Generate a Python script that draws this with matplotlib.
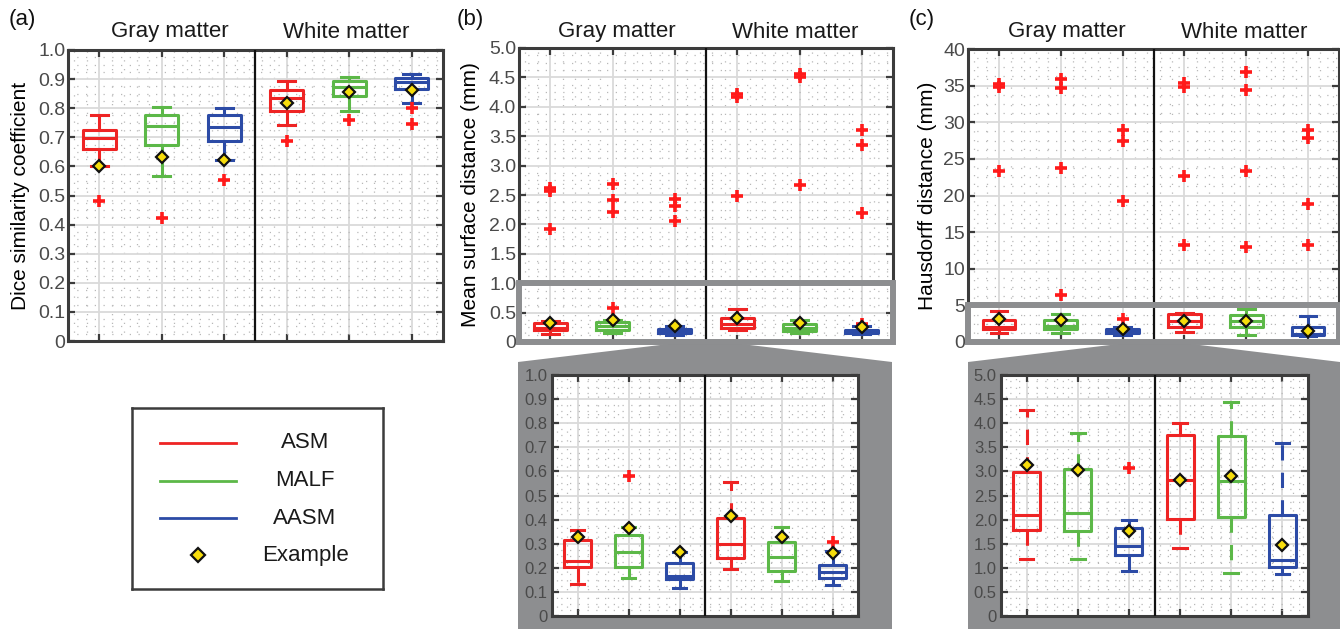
"""
Box plot DSC / MSD / HD per ASM, MALF, AASM su materia grigia e bianca.
"""

import matplotlib
matplotlib.use("Agg")
import matplotlib.pyplot as plt
from matplotlib.patches import Rectangle, Polygon
from matplotlib.lines import Line2D
import matplotlib.transforms as mtransforms
import numpy as np

plt.rcParams["font.family"] = ["Liberation Sans", "DejaVu Sans"]

W, H = 1340, 629

# ─────────────────────────────────────────
# Dati (ordine: ASM-GM, MALF-GM, AASM-GM, ASM-WM, MALF-WM, AASM-WM)
# ─────────────────────────────────────────

methods = ["ASM", "MALF", "AASM"]
regions = ["Gray matter", "White matter"]

# Dice similarity coefficient
dsc_q1 = [0.661, 0.675, 0.687, 0.791, 0.842, 0.865]
dsc_med = [0.698, 0.740, 0.734, 0.836, 0.872, 0.889]
dsc_q3 = [0.725, 0.775, 0.775, 0.861, 0.893, 0.905]
dsc_lo = [0.601, 0.568, 0.622, 0.743, 0.792, 0.817]
dsc_hi = [0.776, 0.805, 0.800, 0.894, 0.906, 0.917]
dsc_out = [[0.480], [0.424], [0.553], [0.687], [0.761], [0.800, 0.744]]
dsc_ex = [0.602, 0.634, 0.622, 0.819, 0.855, 0.862]

# Mean surface distance (mm)
msd_q1 = [0.202, 0.202, 0.152, 0.239, 0.185, 0.158]
msd_med = [0.230, 0.267, 0.166, 0.299, 0.243, 0.181]
msd_q3 = [0.315, 0.336, 0.219, 0.405, 0.306, 0.212]
msd_lo = [0.133, 0.158, 0.118, 0.196, 0.147, 0.129]
msd_hi = [0.357, 0.371, 0.267, 0.555, 0.371, 0.271]
msd_out = [[2.62, 2.56, 1.93], [2.69, 2.41, 2.21, 0.581], [2.44, 2.32, 2.05],
           [4.21, 4.16, 2.49], [4.56, 4.50, 2.67], [3.61, 3.35, 2.19, 0.306]]
msd_ex = [0.329, 0.367, 0.267, 0.415, 0.329, 0.263]

# Hausdorff distance (mm)
hd_q1 = [1.78, 1.76, 1.26, 2.01, 2.06, 1.02]
hd_med = [2.09, 2.14, 1.46, 2.82, 2.80, 1.16]
hd_q3 = [2.99, 3.04, 1.82, 3.76, 3.73, 2.09]
hd_lo = [1.18, 1.18, 0.94, 1.42, 0.90, 0.88]
hd_hi = [4.28, 3.80, 2.00, 4.01, 4.45, 3.58]
hd_out = [[35.2, 34.75, 23.4], [35.9, 34.7, 23.8, 6.48], [28.9, 27.5, 19.25, 3.08],
          [35.35, 34.8, 22.7, 13.3], [36.8, 34.4, 23.35, 13.0], [28.96, 27.8, 18.9, 13.3]]
hd_ex = [3.13, 3.02, 1.77, 2.82, 2.90, 1.47]

# ─────────────────────────────────────────
# Stile
# ─────────────────────────────────────────

COLORS = ["#ee2424", "#5cb848", "#2c4ba6"]
FRAME = "#3c3c3c"
CALLOUT = "#8d8e90"
TICKCOL = "#4a4a4a"
POS = np.arange(1, 7)


def px_box(l, t, r, b):
    """Rettangolo in pixel -> [left, bottom, width, height] in frazione di figura."""
    return [l / W, 1 - b / H, (r - l) / W, (b - t) / H]


def make_stats(q1, med, q3, lo, hi, out):
    stats = []
    for i in range(len(q1)):
        stats.append({"q1": q1[i], "med": med[i], "q3": q3[i],
                      "whislo": lo[i], "whishi": hi[i], "fliers": out[i]})
    return stats


def setup_axes(ax, ylim, major, minor, fs, pad):
    ax.set_xlim(0.5, 6.5)
    ax.set_ylim(*ylim)
    ax.set_xticks(POS)
    ax.set_xticklabels([])
    ax.set_xticks(np.arange(0.6, 6.45, 0.2), minor=True)
    ax.set_yticks(np.arange(ylim[0], ylim[1] + 1e-9, major))
    ax.set_yticks(np.arange(ylim[0], ylim[1] + 1e-9, minor), minor=True)
    ax.tick_params(which="major", direction="in", length=5, width=1.6,
                   color=FRAME, top=True, right=True, labelsize=fs,
                   labelcolor=TICKCOL, pad=pad)
    ax.tick_params(which="minor", length=0)
    ax.grid(True, which="major", color="#dadada", lw=1.3)
    ax.grid(True, which="minor", color="#b8b8b8", lw=0.9, ls=(0, (1, 6)))
    ax.set_axisbelow(True)
    for s in ax.spines.values():
        s.set_color(FRAME)
        s.set_linewidth(2.2)
    ax.axvline(3.5, color="#111111", lw=1.6, zorder=3)


def draw_boxes(ax, stats, example, dashed):
    for i, st in enumerate(stats):
        c = COLORS[i % 3]
        ws = (0, (5, 4)) if dashed else "-"
        ax.bxp([st], positions=[POS[i]], widths=0.53, capwidths=0.27,
               showfliers=True,
               boxprops=dict(color=c, lw=2.2),
               medianprops=dict(color=c, lw=2.2),
               whiskerprops=dict(color=c, lw=2.2, ls=ws),
               capprops=dict(color=c, lw=2.2),
               flierprops=dict(marker="+", markeredgecolor="#ff1a1a",
                               markersize=8, markeredgewidth=2.6,
                               linestyle="none"),
               manage_ticks=False)
    ax.plot(POS, example, ls="none", marker="D", markersize=6,
            markerfacecolor="#f7dd0c", markeredgecolor="#111111",
            markeredgewidth=1.6, zorder=6)


fig = plt.figure(figsize=(W / 100, H / 100), dpi=100)

# ─────────────────────────────────────────
# Callout grigi (dietro gli inset)
# ─────────────────────────────────────────

for top_l, top_r, left, right in [(677, 733, 518, 892), (1127, 1183, 968, 1340)]:
    pts = [(top_l, 343), (top_r, 343), (right, 362), (right, H), (left, H), (left, 362)]
    poly = Polygon([(x / W, 1 - y / H) for x, y in pts], closed=True,
                   transform=fig.transFigure, facecolor=CALLOUT,
                   edgecolor="none", zorder=-1)
    fig.add_artist(poly)

# ─────────────────────────────────────────
# (a) Dice
# ─────────────────────────────────────────

ax_a = fig.add_axes(px_box(68, 50, 443, 341))
setup_axes(ax_a, (0, 1.0), 0.1, 0.025, 14, 2)
ax_a.set_yticklabels(["0"] + [f"{v:.1f}" for v in np.arange(0.1, 1.01, 0.1)])
draw_boxes(ax_a, make_stats(dsc_q1, dsc_med, dsc_q3, dsc_lo, dsc_hi, dsc_out),
           dsc_ex, False)
ax_a.set_ylabel("Dice similarity coefficient", fontsize=15, va="center")
ax_a.yaxis.set_label_coords(-0.128, 0.5)

# ─────────────────────────────────────────
# (b) Mean surface distance
# ─────────────────────────────────────────

msd_stats = make_stats(msd_q1, msd_med, msd_q3, msd_lo, msd_hi, msd_out)

ax_b = fig.add_axes(px_box(519, 48, 893, 342))
setup_axes(ax_b, (0, 5.0), 0.5, 0.125, 14, 2)
ax_b.set_yticklabels(["0"] + [f"{v:.1f}" for v in np.arange(0.5, 5.01, 0.5)])
draw_boxes(ax_b, msd_stats, msd_ex, False)
ax_b.set_ylabel("Mean surface distance (mm)", fontsize=15, va="center")
ax_b.yaxis.set_label_coords(-0.131, 0.5)
trb = mtransforms.blended_transform_factory(ax_b.transAxes, ax_b.transData)
ax_b.add_patch(Rectangle((0, 0), 1, 1.0, transform=trb, fill=False,
                         edgecolor=CALLOUT, lw=4.3, clip_on=False, zorder=8))

ax_bi = fig.add_axes(px_box(552, 375, 858, 616))
setup_axes(ax_bi, (0, 1.0), 0.1, 0.025, 12, 3)
ax_bi.set_yticklabels(["0"] + [f"{v:.1f}" for v in np.arange(0.1, 1.01, 0.1)])
draw_boxes(ax_bi, msd_stats, msd_ex, True)

# ─────────────────────────────────────────
# (c) Hausdorff
# ─────────────────────────────────────────

hd_stats = make_stats(hd_q1, hd_med, hd_q3, hd_lo, hd_hi, hd_out)

ax_c = fig.add_axes(px_box(968, 49, 1339, 342))
setup_axes(ax_c, (0, 40), 5, 1.25, 14, 2)
ax_c.set_yticklabels([f"{v:d}" for v in range(0, 41, 5)])
draw_boxes(ax_c, hd_stats, hd_ex, False)
ax_c.set_ylabel("Hausdorff distance (mm)", fontsize=15, va="center")
ax_c.yaxis.set_label_coords(-0.11, 0.5)
trc = mtransforms.blended_transform_factory(ax_c.transAxes, ax_c.transData)
ax_c.add_patch(Rectangle((0, 0), 1, 5.0, transform=trc, fill=False,
                         edgecolor=CALLOUT, lw=4.3, clip_on=False, zorder=8))

ax_ci = fig.add_axes(px_box(1001, 375, 1308, 616))
setup_axes(ax_ci, (0, 5.0), 0.5, 0.125, 12, 3)
ax_ci.set_yticklabels(["0"] + [f"{v:.1f}" for v in np.arange(0.5, 5.01, 0.5)])
draw_boxes(ax_ci, hd_stats, hd_ex, True)

# ─────────────────────────────────────────
# Titoli ed etichette dei pannelli
# ─────────────────────────────────────────

for lab, x in [("(a)", 22), ("(b)", 470), ("(c)", 922)]:
    fig.text(x / W, 1 - 20 / H, lab, fontsize=16, ha="center", va="center",
             color="#111111")

for xg, xw in [(170, 346), (617, 795), (1067, 1244)]:
    fig.text(xg / W, 1 - 32 / H, regions[0], fontsize=16, ha="center",
             va="center", color="#1a1a1a")
    fig.text(xw / W, 1 - 32 / H, regions[1], fontsize=16, ha="center",
             va="center", color="#1a1a1a")

# ─────────────────────────────────────────
# Legenda
# ─────────────────────────────────────────

ax_leg = fig.add_axes(px_box(132, 408, 383, 589))
ax_leg.set_xlim(132, 383)
ax_leg.set_ylim(589, 408)
ax_leg.set_xticks([])
ax_leg.set_yticks([])
for s in ax_leg.spines.values():
    s.set_color(FRAME)
    s.set_linewidth(1.8)
rows = [443, 481, 518, 555]
for i, m in enumerate(methods):
    ax_leg.add_line(Line2D([160, 236], [rows[i], rows[i]], color=COLORS[i], lw=2))
    ax_leg.text(305, rows[i], m, fontsize=16, ha="center", va="center",
                color="#1a1a1a")
ax_leg.plot([198], [rows[3]], ls="none", marker="D", markersize=7,
            markerfacecolor="#f7dd0c", markeredgecolor="#111111",
            markeredgewidth=1.6)
ax_leg.text(305, rows[3], "Example", fontsize=16, ha="center", va="center",
            color="#1a1a1a")

fig.savefig("out.png", dpi=100)
